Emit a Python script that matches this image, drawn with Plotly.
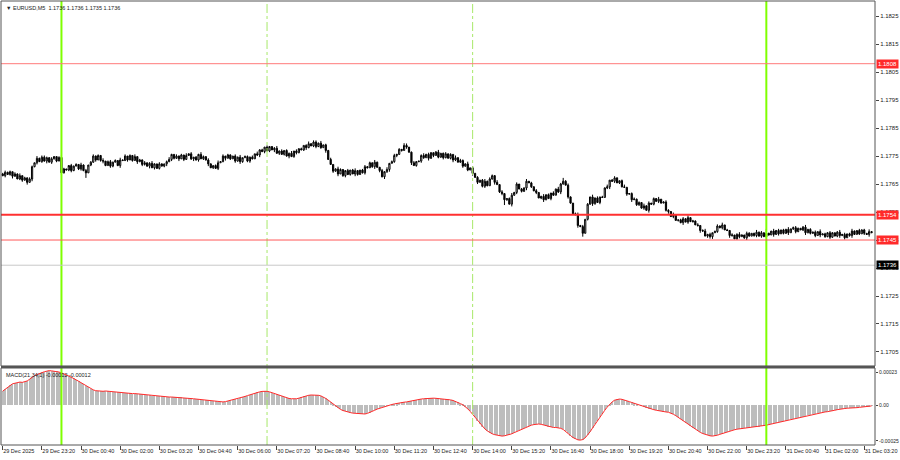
import plotly.graph_objects as go
import pandas as pd

# ---------------- data (prices in points above 1.17000, 1 pt = 0.00001) ----------------
first_open = 686
closes = [
    680, 692, 684, 694,
    678, 686, 668, 680, 664, 672, 656,
    668,
    712,
    726, 742, 730, 746, 732, 744, 728, 740, 748, 732, 745,
    690, 704,
    700, 716, 698, 714, 720, 704, 718, 698, 690, 718,
    728, 750, 736, 752, 734,
    732, 716, 730, 714, 728, 734, 716, 736,
    734, 750, 736, 752, 734, 748, 730, 736,
    720, 726, 714, 724, 708, 722, 706, 722, 714, 722, 730,
    738, 756, 742, 750, 740, 754, 738, 752, 758, 740, 746, 736, 756, 740, 748, 736,
    722, 708, 716, 706, 726,
    730, 750, 742, 754, 740, 750,
    732, 746, 730, 744, 748, 732, 746, 740,
    758, 754, 772, 766, 782, 768, 784, 772, 778, 760,
    768, 756, 770, 750, 760, 748, 768, 762, 776,
    772, 788, 780, 794, 786, 800, 784, 796, 780, 790,
    770, 738, 720, 696, 704, 686,
    702, 680, 698, 684, 700, 686, 698, 684, 700, 690,
    712, 708, 726, 712, 728, 710,
    698, 676, 694, 702,
    724, 730, 752, 756, 774, 770, 788, 782,
    764, 726, 716, 730,
    732, 752, 744, 756, 742, 762, 752, 764, 746, 760,
    744, 758, 742, 756, 736, 744, 728,
    734, 714, 722, 700, 708, 688,
    674, 656, 664, 642, 660, 644,
    668, 680,
    656, 648, 622, 616, 594, 598, 578,
    610, 620, 650, 632, 624, 636, 660, 654, 640, 626,
    620, 600, 606, 594, 612, 598,
    618, 610, 632, 622, 650, 660,
    646, 604, 582, 544, 540, 502, 498, 474,
    524, 578,
    604, 580, 600, 584, 604, 602,
    636, 640, 664, 660, 672, 654, 662,
    640, 638, 614, 616, 594, 596, 576, 584, 564, 572, 556,
    582, 578, 598, 588, 596, 582, 586,
    556, 552, 534, 540,
    520, 522, 512, 526, 514, 530, 516, 518, 504, 502, 484,
    482, 464, 470, 462, 476,
    480, 500, 494, 504, 486, 484,
    466, 468, 454, 470, 462, 468, 458, 474, 464, 474,
    466, 478, 464, 476, 462, 474,
    468, 482, 470, 484, 472, 486, 474, 488, 476, 490,
    494, 480, 492, 486, 496, 476, 488, 474, 478, 466,
    480, 468, 472, 462, 476, 460, 476, 464, 478, 466,
    470, 458, 472, 466, 482, 470, 484, 472, 486, 474,
    470, 480, 476,
]
# wick lengths per bar, one digit per bar, each digit = 2 points
wick_up = (
    "2312031402" "1320413021" "3102420131" "2041302310" "1402312041"
    "3021402130" "2410310241" "0312041302" "1420310241" "3021031402"
    "2130412031" "0241302140" "3120241031" "4021301420" "1302410231"
    "2041031402" "3120420131" "0241310240" "1302041321" "4031202413"
    "2140310241" "3021402130" "1402031420" "2310241302" "0413021402"
    "3102410231" "2041302140" "1320410231" "4021302413" "0231402130"
    "2410320141" "3021041302" "1402310241" "2130402131" "0241302410"
    "312041"
)
wick_dn = (
    "1302410231" "2041302140" "3120410231" "0231402130" "2410320141"
    "1302041321" "4031202413" "2140310241" "3021402130" "1402031420"
    "2310241302" "0413021402" "3102410231" "2041031402" "3120420131"
    "0241310240" "2312031402" "1320413021" "3102420131" "2041302310"
    "1402312041" "3021402130" "2410310241" "0312041302" "1420310241"
    "3021031402" "2130412031" "0241302140" "3120241031" "4021301420"
    "1302410231" "3021041302" "1402310241" "2130402131" "0241302410"
    "203140"
)
wick_highs = {127: 806, 165: 795, 250: 678, 229: 672, 17: 752, 39: 756, 312: 490}
wick_lows = {10: 648, 34: 672, 156: 668, 237: 462, 205: 575, 289: 455, 140: 676, 24: 684}

# MACD(21,34,1) main values, units of 0.000001
macd = [
    97, 110, 125,
    140, 148, 152, 156, 160,
    158, 162, 168, 180, 195, 205,
    212, 220, 228, 232,
    236, 240, 238, 236, 234, 230,
    224, 218, 210, 202, 194, 186,
    176, 166, 156, 146, 136, 124, 114,
    106, 100, 98, 97, 96, 98, 96, 94,
    92, 90, 88, 88, 86, 85, 84, 82, 80, 80, 78, 76, 74, 72, 70, 68,
    66, 64, 62, 60, 60, 58, 58, 56, 56, 55, 55, 54, 54, 52, 50, 48, 46, 44, 42, 40, 38,
    36, 34, 32, 30, 28, 26, 24, 22, 22, 24, 28, 32,
    36, 40, 44, 48, 54, 60, 66, 72,
    78, 84, 88, 92, 95, 97, 96, 92,
    86, 80, 74, 68, 62, 56, 50, 46, 44, 42, 44, 48,
    54, 60, 64, 68, 70, 70, 70, 68, 64, 56, 46, 34, 20,
    6, -8, -20, -30, -38, -44,
    -48, -52, -56, -58, -60, -62, -63, -62, -58, -52, -44, -36,
    -28, -22, -16, -10, -5, 0, 4, 8, 12, 16,
    18, 20, 22, 26, 30, 34, 38, 40,
    42, 44, 46, 48, 48, 48, 47, 46, 45, 44, 42, 40, 36, 32, 26, 18, 10,
    2, -10, -26, -44, -64, -86,
    -108, -130, -150, -166, -180, -192, -200, -206, -210, -214,
    -216, -214, -210, -206, -200, -192, -184, -176,
    -168, -160, -152, -146, -140, -136, -132, -132, -134, -138,
    -144, -150, -154, -156, -156, -158, -162,
    -170, -182, -196, -212, -226, -236, -242, -244, -240, -228,
    -210, -186, -160, -134, -108, -84,
    -60, -36, -14, 6, 22, 34, 40, 42,
    40, 36, 30, 24, 18, 12, 6, 0, -6, -12, -18, -24,
    -28, -32, -36, -40, -44, -46, -48, -50, -56,
    -64, -74, -86, -98, -110, -122, -134, -146, -158, -170, -180, -190,
    -198, -204, -210, -214, -216, -214, -210,
    -204, -198, -192, -186, -180, -176, -172, -168, -166, -164, -162, -160, -158, -156, -154, -152, -150, -148,
    -144, -140, -136, -132, -128, -124, -120, -116, -112, -108, -104, -100, -96, -92, -88, -84,
    -80, -76, -72, -68, -64, -60, -56, -52, -50, -48, -46, -44, -40, -36, -32, -28,
    -26, -24, -22, -22, -20, -20, -18, -16, -14, -12, -10, -8, -6,
]

first_bar_time = "2025-12-29 22:00"
tick_times = [
    "2025-12-29 22:00", "2025-12-29 23:20", "2025-12-30 00:40", "2025-12-30 02:00",
    "2025-12-30 03:20", "2025-12-30 04:40", "2025-12-30 06:00", "2025-12-30 07:20",
    "2025-12-30 08:40", "2025-12-30 10:00", "2025-12-30 11:20", "2025-12-30 12:40",
    "2025-12-30 14:00", "2025-12-30 15:20", "2025-12-30 16:40", "2025-12-30 18:00",
    "2025-12-30 19:20", "2025-12-30 20:40", "2025-12-30 22:00", "2025-12-30 23:20",
    "2025-12-31 00:40", "2025-12-31 02:00", "2025-12-31 03:20",
]
tick_labels = [
    "29 Dec 2025", "29 Dec 23:20", "30 Dec 00:40", "30 Dec 02:00", "30 Dec 03:20",
    "30 Dec 04:40", "30 Dec 06:00", "30 Dec 07:20", "30 Dec 08:40", "30 Dec 10:00",
    "30 Dec 11:20", "30 Dec 12:40", "30 Dec 14:00", "30 Dec 15:20", "30 Dec 16:40",
    "30 Dec 18:00", "30 Dec 19:20", "30 Dec 20:40", "30 Dec 22:00", "30 Dec 23:20",
    "31 Dec 00:40", "31 Dec 02:00", "31 Dec 03:20",
]
price_ticks = [1.1825, 1.1815, 1.1805, 1.1795, 1.1785, 1.1775, 1.1765, 1.1755,
               1.1745, 1.1735, 1.1725, 1.1715, 1.1705]
macd_ticks = [0.00023, 0.0, -0.00025]
macd_tick_labels = ["0.00023", "0.00", "-0.00025"]
red_levels = [1.1808, 1.1754, 1.1745]
gray_level = 1.1736
session_solid = ["2025-12-30 00:00", "2025-12-31 00:00"]
session_dash = ["2025-12-30 07:00", "2025-12-30 14:00"]
header_text = "EURUSD,M5  1.1736 1.1736 1.1735 1.1736"
macd_text = "MACD(21,34,1) -0.00012 -0.00012"

# ---------------- build ----------------
PT = 0.00001
BASE = 1.17
n = len(closes)
times = pd.date_range(first_bar_time, periods=n, freq="5min")
o, h, l, c = [], [], [], []
prev = first_open
for i, cl in enumerate(closes):
    op = prev
    wu = int(wick_up[i]) * 2 if i < len(wick_up) else 0
    wd = int(wick_dn[i]) * 2 if i < len(wick_dn) else 0
    hi = max(max(op, cl) + wu, wick_highs.get(i, -1e9))
    lo = min(min(op, cl) - wd, wick_lows.get(i, 1e9))
    o.append(BASE + op * PT); c.append(BASE + cl * PT)
    h.append(BASE + hi * PT); l.append(BASE + lo * PT)
    prev = cl

FONT = "Liberation Sans"
TXT = "#222222"

fig = go.Figure()
fig.add_trace(go.Candlestick(
    x=times, open=o, high=h, low=l, close=c, xaxis="x", yaxis="y",
    increasing=dict(line=dict(color="black", width=1), fillcolor="white"),
    decreasing=dict(line=dict(color="black", width=1), fillcolor="black"),
    whiskerwidth=0, showlegend=False, hoverinfo="skip",
))
mt = times[:len(macd)]
mv = [v * 1e-6 for v in macd]
fig.add_trace(go.Bar(x=mt, y=mv, xaxis="x2", yaxis="y2", marker=dict(color="#bdbdbd", line=dict(width=0)),
                     width=5 * 60 * 1000 * 0.45, showlegend=False, hoverinfo="skip"))
fig.add_trace(go.Scatter(x=mt, y=mv, xaxis="x2", yaxis="y2", mode="lines",
                         line=dict(color="#ff2a2a", width=1), showlegend=False, hoverinfo="skip"))

t0 = times[0]
xr = [t0 - pd.Timedelta(minutes=3.5), t0 + pd.Timedelta(minutes=5 * 356.4)]
MAIN_BOT = 0.178
SUB_TOP = 0.1734

shapes = []
for tt in session_solid:
    shapes.append(dict(type="line", xref="x", yref="paper", x0=tt, x1=tt, y0=0, y1=1,
                       line=dict(color="#7fff00", width=2), layer="above"))
for tt in session_dash:
    shapes.append(dict(type="line", xref="x", yref="paper", x0=tt, x1=tt, y0=0, y1=1,
                       line=dict(color="#a8e86a", width=1, dash="dashdot"), layer="above"))
shapes.append(dict(type="line", xref="paper", yref="y", x0=0, x1=1, y0=red_levels[0], y1=red_levels[0],
                   line=dict(color="#ff7a7a", width=1)))
shapes.append(dict(type="line", xref="paper", yref="y", x0=0, x1=1, y0=red_levels[1], y1=red_levels[1],
                   line=dict(color="#ff3030", width=2)))
shapes.append(dict(type="line", xref="paper", yref="y", x0=0, x1=1, y0=red_levels[2], y1=red_levels[2],
                   line=dict(color="#ff5a5a", width=1)))
shapes.append(dict(type="line", xref="paper", yref="y", x0=0, x1=1, y0=gray_level, y1=gray_level,
                   line=dict(color="#c8c8c8", width=1)))
shapes.append(dict(type="rect", xref="paper", yref="paper", x0=0, x1=1, y0=MAIN_BOT, y1=1,
                   line=dict(color="#555555", width=1)))
shapes.append(dict(type="rect", xref="paper", yref="paper", x0=0, x1=1, y0=0, y1=SUB_TOP,
                   line=dict(color="#555555", width=1)))
shapes.append(dict(type="line", xref="paper", yref="paper", x0=0, x1=1, y0=(MAIN_BOT + SUB_TOP) / 2,
                   y1=(MAIN_BOT + SUB_TOP) / 2, line=dict(color="#555555", width=2)))

annotations = []
for lvl, bg in [(red_levels[0], "#ff2a2a"), (red_levels[1], "#ff2a2a"), (red_levels[2], "#ff2a2a"),
                (gray_level, "#000000")]:
    annotations.append(dict(xref="paper", yref="y", x=1.0, y=lvl, xanchor="left", yanchor="middle",
                            text=f"{lvl:.4f}", showarrow=False, bgcolor=bg, borderpad=1, xshift=1,
                            font=dict(family=FONT, size=6, color="white")))
annotations.append(dict(xref="paper", yref="paper", x=0, y=1, xanchor="left", yanchor="top",
                        text="\u25BC " + header_text, showarrow=False, xshift=3, yshift=-2,
                        font=dict(family=FONT, size=5.5, color=TXT)))
annotations.append(dict(xref="paper", yref="paper", x=0, y=SUB_TOP, xanchor="left", yanchor="top",
                        text=macd_text, showarrow=False, xshift=3, yshift=-2,
                        font=dict(family=FONT, size=5.5, color=TXT)))

fig.update_layout(
    width=900, height=460, margin=dict(l=1, r=25, t=1, b=15, autoexpand=False),
    paper_bgcolor="white", plot_bgcolor="white", bargap=0,
    font=dict(family=FONT, size=6, color=TXT),
    xaxis=dict(domain=[0, 1], anchor="y", range=xr, showticklabels=False, showgrid=False,
               zeroline=False, rangeslider=dict(visible=False), ticks=""),
    xaxis2=dict(domain=[0, 1], anchor="y2", matches="x", range=xr, showgrid=False, zeroline=False,
                tickmode="array", tickvals=tick_times, ticktext=tick_labels, ticks="outside",
                ticklen=4, tickcolor="#444444", ticklabelposition="outside right", tickangle=0,
                automargin=False,
                tickfont=dict(family=FONT, size=5.5, color=TXT), rangeslider=dict(visible=False)),
    yaxis=dict(domain=[MAIN_BOT, 1], anchor="x", side="right", range=[1.1700, 1.18304],
               tickmode="array", tickvals=price_ticks, ticktext=[f"{v:.4f}" for v in price_ticks],
               ticks="outside", ticklen=3, tickcolor="#444444", showgrid=False, zeroline=False,
               automargin=False, tickfont=dict(family=FONT, size=6, color=TXT)),
    yaxis2=dict(domain=[0, SUB_TOP], anchor="x2", side="right", range=[-0.000278, 0.000258],
                tickmode="array", tickvals=macd_ticks, ticktext=macd_tick_labels, ticks="outside",
                ticklen=2, tickcolor="#444444", showgrid=False, zeroline=False, automargin=False,
                tickfont=dict(family=FONT, size=5, color=TXT)),
    shapes=shapes, annotations=annotations,
)
fig.write_html("out.html", config={"displayModeBar": False},
               post_script="document.body.style.margin='0';document.body.style.overflow='hidden';")
